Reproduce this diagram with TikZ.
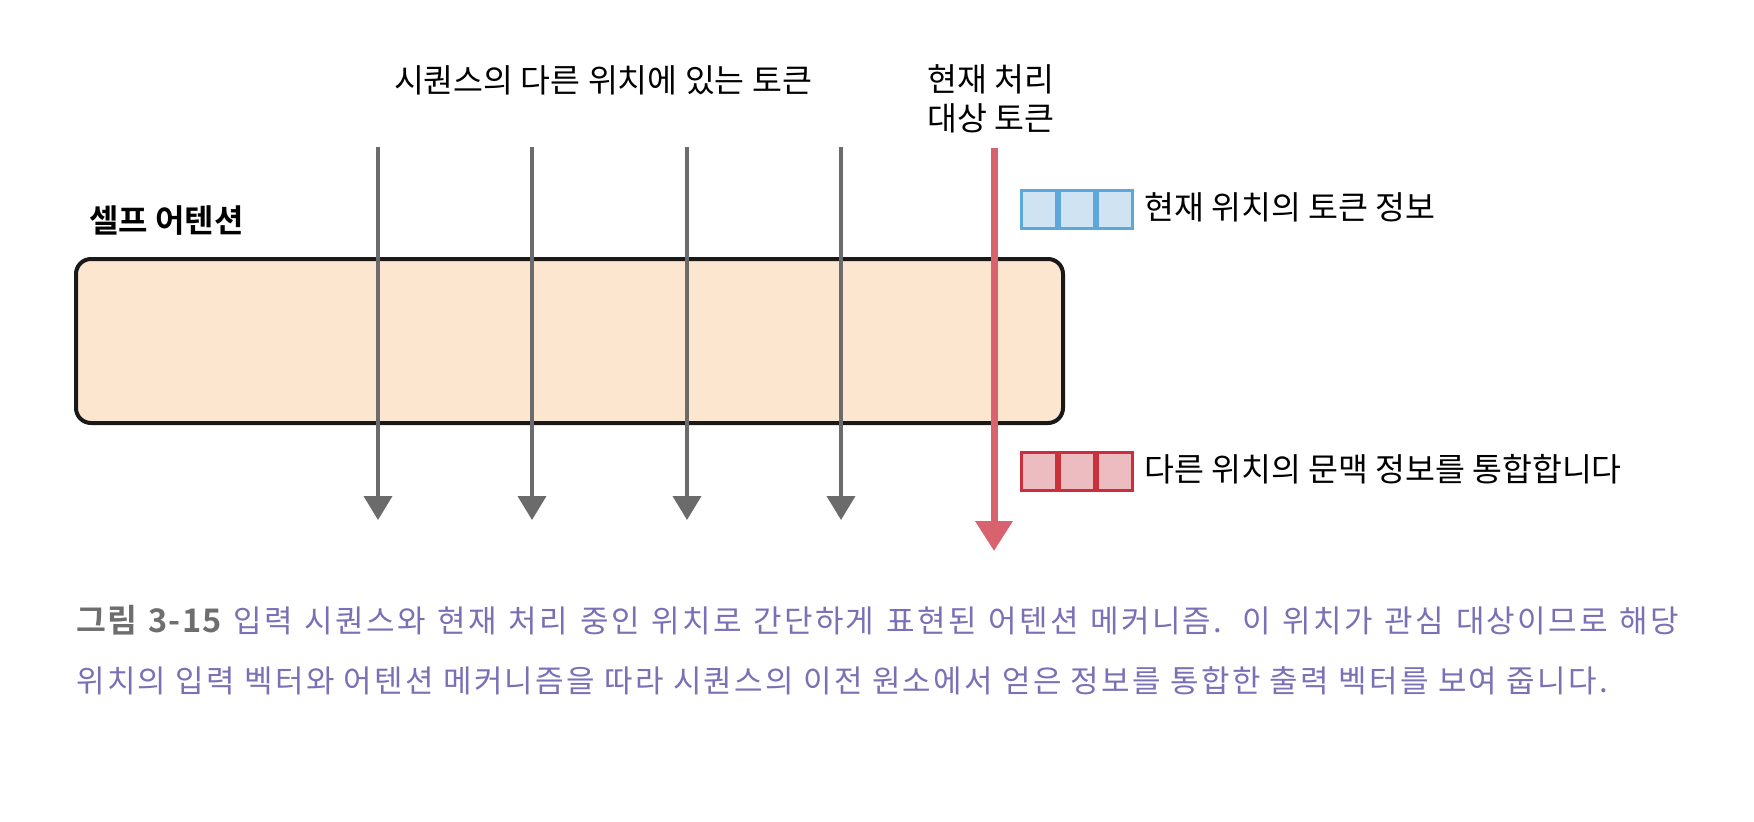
\documentclass[tikz,border=0pt]{standalone}
\usepackage{fontspec}
\setmainfont{Noto Sans CJK KR}
\newfontfamily\kr{Noto Sans CJK KR}
\newfontfamily\krb{Noto Sans CJK KR Bold}
\newfontfamily\krcap[LetterSpace=7.5]{Noto Sans CJK KR}
\newfontfamily\krcapb[LetterSpace=4]{Noto Sans CJK KR Bold}
\usetikzlibrary{arrows.meta}
\definecolor{peach}{HTML}{FDE6CF}
\definecolor{arrgray}{HTML}{6B6B6B}
\definecolor{arrred}{HTML}{D8636E}
\definecolor{bluefill}{HTML}{CFE3F3}
\definecolor{blueline}{HTML}{5DA8DB}
\definecolor{redfill}{HTML}{EDBCC1}
\definecolor{redline}{HTML}{C9303C}
\definecolor{capgray}{HTML}{6E6E6E}
\definecolor{cappurple}{HTML}{7A70B6}
\tikzset{
  lbl/.style={font=\kr\fontsize{32.5}{39}\selectfont, inner sep=0pt, text=black},
  lblb/.style={font=\krb\fontsize{32}{36}\selectfont, inner sep=0pt, text=black},
  attbox/.style={draw=black!90, line width=4pt, fill=peach, rounded corners=15pt, inner sep=0pt},
  graya/.style={draw=arrgray, line width=4pt, -{Triangle[width=28pt,length=24pt]}},
  reda/.style={draw=arrred, line width=7pt, -{Triangle[width=36pt,length=30pt]}},
  bcell/.style={draw=blueline, fill=bluefill, line width=3pt, minimum width=35pt, minimum height=38pt, inner sep=0pt, anchor=west},
  rcell/.style={draw=redline, fill=redfill, line width=3pt, minimum width=35pt, minimum height=38pt, inner sep=0pt, anchor=west},
  captext/.style={inner sep=0pt, anchor=base west, font=\krcap\fontsize{31}{36}\selectfont, text=cappurple}
}
\begin{document}
\begin{tikzpicture}[x=1pt,y=-1pt]
\useasboundingbox (0,0) rectangle (1754,822);
\fill[white] (0,0) rectangle (1754,822);

% titles
\node[lbl] (title) at (603,80) {시퀀스의 다른 위치에 있는 토큰};
\node[lbl, align=center] (cur) at (991,99) {현재 처리\\대상 토큰};
\node[lblb, anchor=west] (sa) at (89,221) {셀프 어텐션};

% self-attention box
\node[attbox, minimum width=987pt, minimum height=164pt] (box) at (569.5,341) {};

% gray arrows
\foreach \i/\x in {1/378,2/532,3/687,4/841}{
  \coordinate (s\i) at (\x,147);
  \coordinate (e\i) at (\x,520);
  \draw[graya] (s\i) -- (e\i);
}
% red arrow
\coordinate (rs) at (994,148);
\coordinate (re) at (994,551);
\draw[reda] (rs) -- (re);

% blue cells
\node[bcell] (b1) at (1019.5,209.5) {};
\node[bcell] (b2) at (b1.east) {};
\node[bcell] (b3) at (b2.east) {};
\node[lbl, anchor=west] (bt) at (1144,207) {현재 위치의 토큰 정보};

% red cells
\node[rcell] (r1) at (1019.5,471.5) {};
\node[rcell] (r2) at (r1.east) {};
\node[rcell] (r3) at (r2.east) {};
\node[lbl, anchor=west] (rt) at (1144,469) {다른 위치의 문맥 정보를 통합합니다};

% caption
\node[captext] (cap1) at (76,632) {\makebox[1603pt][s]{{\krcapb\fontsize{32.5}{36}\selectfont\color{capgray}그림 3-15} 입력 시퀀스와 현재 처리 중인 위치로 간단하게 표현된 어텐션 메커니즘. 이 위치가 관심 대상이므로 해당}};
\node[captext] (cap2) at (76,692) {위치의 입력 벡터와 어텐션 메커니즘을 따라 시퀀스의 이전 원소에서 얻은 정보를 통합한 출력 벡터를 보여 줍니다.};
\end{tikzpicture}
\end{document}
